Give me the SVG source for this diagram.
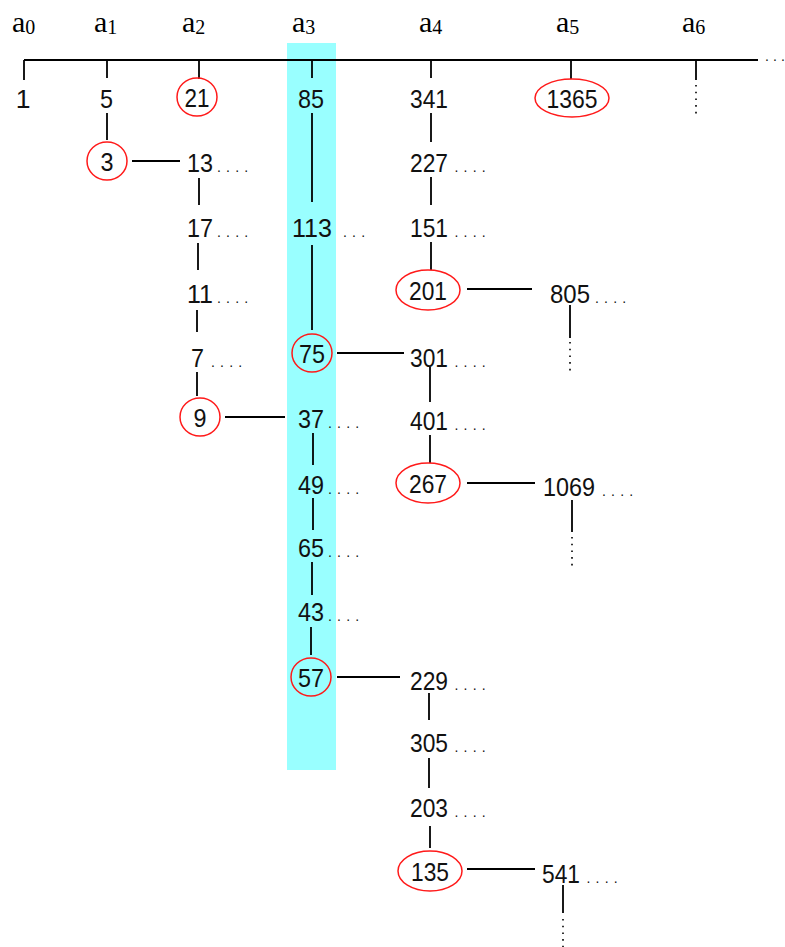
<svg xmlns="http://www.w3.org/2000/svg" width="785" height="947" viewBox="0 0 785 947">
<style>
.hdr{font-family:"Liberation Serif","Times New Roman",serif;font-size:30px;fill:#000}
.sub{font-size:20px}
.num{font-family:"Liberation Sans",Arial,sans-serif;font-size:26.5px;fill:#111}
.dots{font-family:"Liberation Sans",Arial,sans-serif;font-size:14px;letter-spacing:5.2px;fill:#111}
.ln{stroke:#000;stroke-width:1.8;fill:none}
.dl{stroke:#000;stroke-width:1.6;stroke-dasharray:1.6 5.1;fill:none}
.ring{stroke:#ff1a1a;stroke-width:1.5;fill:none}
</style>
<rect id="band" x="287" y="43" width="49" height="727" fill="#99ffff"/>
<g id="header">
<text class="hdr" x="12" y="32">a<tspan class="sub" dy="1.5">0</tspan></text>
<text class="hdr" x="94" y="32">a<tspan class="sub" dy="1.5">1</tspan></text>
<text class="hdr" x="182" y="32">a<tspan class="sub" dy="1.5">2</tspan></text>
<text class="hdr" x="292" y="32">a<tspan class="sub" dy="1.5">3</tspan></text>
<text class="hdr" x="419" y="32">a<tspan class="sub" dy="1.5">4</tspan></text>
<text class="hdr" x="556" y="32">a<tspan class="sub" dy="1.5">5</tspan></text>
<text class="hdr" x="682" y="32">a<tspan class="sub" dy="1.5">6</tspan></text>
<text class="dots" x="765 773 781" y="61" style="letter-spacing:0">...</text>
</g>
<g id="connectors">
<line class="ln" x1="24" y1="60" x2="758" y2="60"/>
<line class="ln" x1="24" y1="60" x2="24" y2="80"/>
<line class="ln" x1="107" y1="60" x2="107" y2="78"/>
<line class="ln" x1="199" y1="60" x2="199" y2="79"/>
<line class="ln" x1="312" y1="60" x2="312" y2="78"/>
<line class="ln" x1="431" y1="60" x2="431" y2="78"/>
<line class="ln" x1="571" y1="60" x2="571" y2="79"/>
<line class="ln" x1="696" y1="60" x2="696" y2="80"/>
<line class="dl" x1="696" y1="85" x2="696" y2="114"/>
<line class="ln" x1="107" y1="113" x2="107" y2="140"/>
<line class="ln" x1="132" y1="161" x2="180" y2="161"/>
<line class="ln" x1="199" y1="178" x2="199" y2="205"/>
<line class="ln" x1="198" y1="243" x2="198" y2="270"/>
<line class="ln" x1="197" y1="310" x2="197" y2="332"/>
<line class="ln" x1="197" y1="372" x2="197" y2="396"/>
<line class="ln" x1="225" y1="417" x2="285" y2="417"/>
<line class="ln" x1="312" y1="113" x2="312" y2="202"/>
<line class="ln" x1="312" y1="245" x2="312" y2="330"/>
<line class="ln" x1="337" y1="353" x2="404" y2="353"/>
<line class="ln" x1="313" y1="433" x2="313" y2="465"/>
<line class="ln" x1="313" y1="498" x2="313" y2="530"/>
<line class="ln" x1="312" y1="562" x2="312" y2="595"/>
<line class="ln" x1="311" y1="627" x2="311" y2="655"/>
<line class="ln" x1="337" y1="677" x2="400" y2="677"/>
<line class="ln" x1="429" y1="693" x2="429" y2="720"/>
<line class="ln" x1="429" y1="758" x2="429" y2="788"/>
<line class="ln" x1="430" y1="826" x2="430" y2="848"/>
<line class="ln" x1="467" y1="869" x2="535" y2="869"/>
<line class="ln" x1="563" y1="885" x2="563" y2="913"/>
<line class="dl" x1="563" y1="919" x2="563" y2="947"/>
<line class="ln" x1="431" y1="113" x2="431" y2="142"/>
<line class="ln" x1="431" y1="177" x2="431" y2="205"/>
<line class="ln" x1="431" y1="242" x2="431" y2="270"/>
<line class="ln" x1="467" y1="289" x2="532" y2="289"/>
<line class="ln" x1="570" y1="305" x2="570" y2="338"/>
<line class="dl" x1="570" y1="342" x2="570" y2="372"/>
<line class="ln" x1="430" y1="367" x2="430" y2="402"/>
<line class="ln" x1="430" y1="435" x2="430" y2="463"/>
<line class="ln" x1="467" y1="483" x2="535" y2="483"/>
<line class="ln" x1="572" y1="500" x2="572" y2="532"/>
<line class="dl" x1="572" y1="537" x2="572" y2="566"/>
</g>
<g id="n1"><text class="num" x="23" y="108" text-anchor="middle">1</text></g>
<g id="n5"><text class="num" x="100" y="108" textLength="13" lengthAdjust="spacingAndGlyphs">5</text></g>
<g id="n21"><ellipse class="ring" cx="197" cy="97" rx="20" ry="19"/><text class="num" x="197" y="107" text-anchor="middle" textLength="25" lengthAdjust="spacingAndGlyphs">21</text></g>
<g id="n85"><text class="num" x="298" y="108" textLength="26" lengthAdjust="spacingAndGlyphs">85</text></g>
<g id="n341"><text class="num" x="410" y="108" textLength="38" lengthAdjust="spacingAndGlyphs">341</text></g>
<g id="n1365"><ellipse class="ring" cx="572" cy="98" rx="37" ry="19"/><text class="num" x="572" y="108" text-anchor="middle" textLength="51" lengthAdjust="spacingAndGlyphs">1365</text></g>
<g id="n3"><ellipse class="ring" cx="107" cy="161" rx="20" ry="19"/><text class="num" x="107" y="171" text-anchor="middle" textLength="13" lengthAdjust="spacingAndGlyphs">3</text></g>
<g id="n13"><text y="172"><tspan class="num" x="187" textLength="26" lengthAdjust="spacingAndGlyphs">13</tspan><tspan class="dots" x="217">....</tspan></text></g>
<g id="n17"><text y="237"><tspan class="num" x="187" textLength="26" lengthAdjust="spacingAndGlyphs">17</tspan><tspan class="dots" x="217">....</tspan></text></g>
<g id="n11"><text y="303"><tspan class="num" x="187" textLength="26" lengthAdjust="spacingAndGlyphs">11</tspan><tspan class="dots" x="217">....</tspan></text></g>
<g id="n7"><text y="367"><tspan class="num" x="191" textLength="13" lengthAdjust="spacingAndGlyphs">7</tspan><tspan class="dots" x="211">....</tspan></text></g>
<g id="n9"><ellipse class="ring" cx="200" cy="417" rx="20" ry="19"/><text class="num" x="200" y="427" text-anchor="middle" textLength="13" lengthAdjust="spacingAndGlyphs">9</text></g>
<g id="n113"><text y="237"><tspan class="num" x="292" textLength="40" lengthAdjust="spacingAndGlyphs">113</tspan><tspan class="dots" x="343">...</tspan></text></g>
<g id="n75"><ellipse class="ring" cx="312" cy="353" rx="20" ry="19"/><text class="num" x="312" y="363" text-anchor="middle" textLength="26" lengthAdjust="spacingAndGlyphs">75</text></g>
<g id="n37"><text y="428"><tspan class="num" x="298" textLength="26" lengthAdjust="spacingAndGlyphs">37</tspan><tspan class="dots" x="328">....</tspan></text></g>
<g id="n49"><text y="494"><tspan class="num" x="298" textLength="26" lengthAdjust="spacingAndGlyphs">49</tspan><tspan class="dots" x="328">....</tspan></text></g>
<g id="n65"><text y="557"><tspan class="num" x="298" textLength="26" lengthAdjust="spacingAndGlyphs">65</tspan><tspan class="dots" x="328">....</tspan></text></g>
<g id="n43"><text y="621"><tspan class="num" x="298" textLength="26" lengthAdjust="spacingAndGlyphs">43</tspan><tspan class="dots" x="328">....</tspan></text></g>
<g id="n57"><ellipse class="ring" cx="311" cy="677" rx="20" ry="19"/><text class="num" x="311" y="687" text-anchor="middle" textLength="26" lengthAdjust="spacingAndGlyphs">57</text></g>
<g id="n227"><text y="172"><tspan class="num" x="410" textLength="38" lengthAdjust="spacingAndGlyphs">227</tspan><tspan class="dots" x="454.5">....</tspan></text></g>
<g id="n151"><text y="237"><tspan class="num" x="410" textLength="38" lengthAdjust="spacingAndGlyphs">151</tspan><tspan class="dots" x="454.5">....</tspan></text></g>
<g id="n201"><ellipse class="ring" cx="428" cy="290" rx="32" ry="20"/><text class="num" x="428" y="300" text-anchor="middle" textLength="38" lengthAdjust="spacingAndGlyphs">201</text></g>
<g id="n301"><text y="367"><tspan class="num" x="410" textLength="38" lengthAdjust="spacingAndGlyphs">301</tspan><tspan class="dots" x="454.5">....</tspan></text></g>
<g id="n401"><text y="430"><tspan class="num" x="410" textLength="38" lengthAdjust="spacingAndGlyphs">401</tspan><tspan class="dots" x="454.5">....</tspan></text></g>
<g id="n267"><ellipse class="ring" cx="428" cy="483" rx="32" ry="20"/><text class="num" x="428" y="493" text-anchor="middle" textLength="38" lengthAdjust="spacingAndGlyphs">267</text></g>
<g id="n229"><text y="690"><tspan class="num" x="410" textLength="38" lengthAdjust="spacingAndGlyphs">229</tspan><tspan class="dots" x="454.5">....</tspan></text></g>
<g id="n305"><text y="752"><tspan class="num" x="410" textLength="38" lengthAdjust="spacingAndGlyphs">305</tspan><tspan class="dots" x="454.5">....</tspan></text></g>
<g id="n203"><text y="817"><tspan class="num" x="410" textLength="38" lengthAdjust="spacingAndGlyphs">203</tspan><tspan class="dots" x="454.5">....</tspan></text></g>
<g id="n135"><ellipse class="ring" cx="430" cy="871" rx="32" ry="20"/><text class="num" x="430" y="881" text-anchor="middle" textLength="38" lengthAdjust="spacingAndGlyphs">135</text></g>
<g id="n805"><text y="303"><tspan class="num" x="550" textLength="40" lengthAdjust="spacingAndGlyphs">805</tspan><tspan class="dots" x="595">....</tspan></text></g>
<g id="n1069"><text y="496"><tspan class="num" x="543" textLength="52" lengthAdjust="spacingAndGlyphs">1069</tspan><tspan class="dots" x="602">....</tspan></text></g>
<g id="n541"><text y="883"><tspan class="num" x="542" textLength="38" lengthAdjust="spacingAndGlyphs">541</tspan><tspan class="dots" x="586.5">....</tspan></text></g>
</svg>
